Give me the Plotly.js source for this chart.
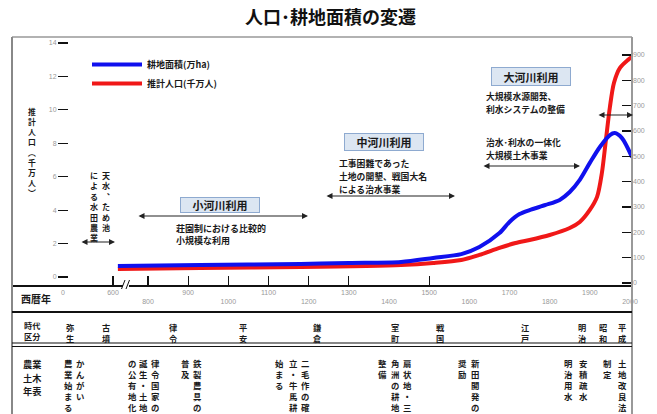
<!DOCTYPE html>
<html><head><meta charset="utf-8">
<script src="https://cdn.plot.ly/plotly-3.0.1.min.js"></script>
<style>html,body{margin:0;padding:0;background:#fff}</style>
</head><body><div id="chart" style="width:657px;height:414px"></div>
<script>
// ---- data ----
const farmYears = [725, 930, 1180, 1300, 1430, 1510, 1580, 1625, 1675, 1700, 1725, 1750, 1790, 1825, 1850, 1875, 1900, 1925, 1950, 1962, 1980, 2005];
const farmArea  = [67, 71, 75, 79, 83, 99, 114, 142, 197, 241, 272, 288, 308, 328, 359, 407, 474, 537, 584, 592, 572, 497];
const popYears  = [725, 930, 1180, 1430, 1510, 1580, 1625, 1675, 1715, 1750, 1800, 1850, 1875, 1900, 1918, 1930, 1940, 1950, 1960, 1975, 1995, 2005];
const popValues = [0.48, 0.54, 0.60, 0.72, 0.84, 1.02, 1.32, 1.74, 2.03, 2.21, 2.51, 2.93, 3.29, 4.01, 4.79, 6.22, 8.20, 10.17, 11.61, 12.51, 12.99, 13.17];

const upperTickYears = [0, 600, 900, 1100, 1300, 1500, 1700, 1900];
const lowerTickYears = [800, 1000, 1200, 1400, 1600, 1800, 2000];
const tickMarkYears  = [600, 800, 900, 1000, 1100, 1200, 1300, 1500];
const leftTicks  = [0, 2, 4, 6, 8, 10, 12, 14];
const rightTicks = [0, 100, 200, 300, 400, 500, 600, 700, 800, 900];

const eras = ['弥生','古墳','律令','平安','鎌倉','室町','戦国','江戸','明治','昭和','平成'];
const events = [
  ['農業始まる','かんがい'],
  ['の公有地化','誕生・土地','律令国家の'],
  ['普及','鉄製農具の'],
  ['始まる','立・牛馬耕','二毛作の確'],
  ['整備','角洲の耕地','扇状地・三'],
  ['奨励','新田開発の'],
  ['明治用水','安積疏水'],
  ['制定','土地改良法']
];

// ---- layout helpers ----
const L = 12, R = 632, T = 37, B = 285;
const px = x => (x - L) / (R - L);
const py = y => (B - y) / (B - T);
// broken axis: years before 700 are compressed
const pos = y => (y < 700 ? 588 + y * (713 - 588) / 600 : y);

const JP = 'Noto Sans CJK JP';
const txt = '#1a1a1a';
const ann = [];
// vertical column of characters: one text element, one character per line
function vcol(s, x, yFirst, size) {
  const map = {'、':'︑','(':'︵',')':'︶'};
  const pitch = size * 1.3;
  ann.push({
    xref:'paper', yref:'paper', x:px(x), y:py(yFirst - pitch / 2), xanchor:'center', yanchor:'top',
    text:[...s].map(c => map[c] || c).join('<br>'), showarrow:false, align:'center', borderpad:0,
    font:{family:JP, size:size, color:txt, weight:'bold'}
  });
}
function htext(s, x, y, size, xanchor, align) {
  ann.push({xref:'paper', yref:'paper', x:px(x), y:py(y), xanchor:xanchor || 'left', yanchor:'top', borderpad:0,
    align:align || 'left', text:s, showarrow:false, font:{family:JP, size:size, color:txt, weight:'bold'}});
}
// several lines, each its own text, with a given line pitch
function hlines(lines, x, yTop, pitch, size, xanchor) {
  lines.forEach((s, i) => htext(s, x, yTop + i * pitch, size, xanchor, 'center'));
}
function box(s, cx, cy, w, h) {
  ann.push({xref:'paper', yref:'paper', x:px(cx), y:py(cy), xanchor:'center', yanchor:'middle',
    text:s, showarrow:false, width:w, height:h, bgcolor:'#dce6f2', bordercolor:'#8eaad0', borderwidth:1, borderpad:0,
    font:{family:JP, size:11, color:txt, weight:'bold'}});
}
function darrow(x1, x2, y) {
  ann.push({xref:'paper', yref:'paper', x:px(x2), y:py(y), ax:x1 - x2, ay:0, axref:'pixel', ayref:'pixel',
    text:'', showarrow:true, arrowside:'end+start', arrowhead:2, startarrowhead:2, arrowsize:1, startarrowsize:1,
    arrowwidth:1.2, arrowcolor:'#222', standoff:0, startstandoff:0});
}

// y-axis title (vertical)
vcol('推計人口(千万人)', 32, 110, 7.8);
htext('西暦年', 20, 290, 10);

// in-plot notes
vcol('天水、ため池', 106, 174, 8);
vcol('による水田農業', 94, 174, 8);
darrow(80, 115, 242);
box('小河川利用', 220, 204.5, 78, 14);
darrow(137, 308, 216);
htext('荘園制における比較的<br>小規模な利用', 175, 221, 9);
box('中河川利用', 384, 141.5, 78, 16);
hlines(['工事困難であった', '土地の開墾、戦国大名', 'による治水事業'], 338, 155.5, 13, 8.8, 'left');
darrow(325, 455, 196);
box('大河川利用', 531, 76, 78, 17);
hlines(['大規模水源開発、', '利水システムの整備'], 485, 88.5, 13, 8.8, 'left');
darrow(597, 633, 115);
hlines(['治水･利水の一体化', '大規模土木事業'], 485, 134.5, 13, 8.8, 'left');
darrow(482, 580, 166);

// table
const eraX = [70, 106, 173, 243, 317, 395, 440, 525, 582, 603, 622];
htext('時代<br>区分', 32, 318, 8.2, 'center', 'center');
eras.forEach((e, i) => vcol(e, eraX[i], 325, 8.2));
hlines(['農業', '土木', '年表'], 32, 356, 13.5, 9.2, 'center');
const evX = [[68, 80], [132, 143, 155], [185, 197], [279, 293, 305], [382, 395, 407], [462, 475], [568, 583], [607, 622]];
events.forEach((cols, i) => cols.forEach((c, j) => vcol(c, evX[i][j], 361, 8.4)));

const shapes = [
  {type:'line', xref:'paper', yref:'paper', x0:0, x1:1, y0:1, y1:1, line:{color:'#999', width:1.5}},
  {type:'line', xref:'paper', yref:'paper', x0:0, x1:0, y0:py(414), y1:1, line:{color:'#888', width:2}},
  {type:'line', xref:'paper', yref:'paper', x0:1, x1:1, y0:py(414), y1:1, line:{color:'#999', width:2}},
  {type:'line', xref:'paper', yref:'paper', x0:0, x1:1, y0:py(312), y1:py(312), line:{color:'#111', width:2}},
  {type:'line', xref:'paper', yref:'paper', x0:0, x1:1, y0:py(343), y1:py(343), line:{color:'#111', width:1.2}},
  {type:'line', xref:'paper', yref:'paper', x0:0, x1:1, y0:py(346.5), y1:py(346.5), line:{color:'#111', width:1.2}},
  {type:'rect', xref:'paper', yref:'paper', x0:px(123), x1:px(129), y0:py(289), y1:py(281), fillcolor:'#fff', line:{width:0}},
  {type:'line', xref:'paper', yref:'paper', x0:px(121.5), x1:px(125), y0:py(289), y1:py(280), line:{color:'#111', width:1}},
  {type:'line', xref:'paper', yref:'paper', x0:px(126), x1:px(129.5), y0:py(289), y1:py(280), line:{color:'#111', width:1}}
];

const xr = [461.4, 2005];
const tickFont = {family:'Liberation Sans', size:7, color:'#999'};
const data = [
  {x:farmYears, y:farmArea, yaxis:'y2', type:'scatter', mode:'lines', name:'耕地面積(万ha)',
   line:{color:'#1010ee', width:4, shape:'spline', smoothing:0.8}},
  {x:popYears, y:popValues, yaxis:'y', type:'scatter', mode:'lines', name:'推計人口(千万人)',
   line:{color:'#f01818', width:4, shape:'spline', smoothing:0.8}},
  {x:[], y:[], xaxis:'x2', showlegend:false, hoverinfo:'skip'},
  {x:[], y:[], xaxis:'x3', showlegend:false, hoverinfo:'skip'}
];
const layout = {
  width:657, height:414, margin:{l:L, r:657 - R, t:T, b:414 - B, pad:0},
  paper_bgcolor:'#fff', plot_bgcolor:'#fff',
  title:{text:'人口･耕地面積の変遷', x:0.503, xref:'container', xanchor:'center', y:1 - 18/414, yref:'container', yanchor:'middle',
    font:{family:JP, size:18, color:'#111', weight:'bold'}},
  xaxis:{range:xr, tickvals:upperTickYears.map(pos), ticktext:upperTickYears.map(String), ticks:'',
    showline:true, linecolor:'#111', linewidth:1.5, showgrid:false, zeroline:false, tickfont:tickFont, fixedrange:true},
  xaxis2:{range:xr, overlaying:'x', anchor:'y', side:'bottom', tickvals:lowerTickYears.map(pos), ticktext:lowerTickYears.map(String),
    ticks:'', ticklabelstandoff:11, showline:false, showgrid:false, zeroline:false, tickfont:tickFont},
  xaxis3:{range:xr, overlaying:'x', anchor:'y', side:'bottom', tickvals:tickMarkYears.map(pos), showticklabels:false,
    ticks:'inside', ticklen:9, tickwidth:1.2, tickcolor:'#111', showline:false, showgrid:false, zeroline:false},
  yaxis:{range:[-0.479, 14.359], anchor:'free', position:px(68), tickvals:leftTicks, ticks:'outside', ticklen:10,
    tickwidth:1.2, tickcolor:'#111', showline:false, showgrid:false, zeroline:false, tickfont:tickFont},
  yaxis2:{range:[-7.9, 971], overlaying:'y', side:'right', anchor:'x', tickvals:rightTicks, ticks:'inside', ticklen:10,
    tickwidth:1.2, tickcolor:'#111', showline:false, showgrid:false, zeroline:false, tickfont:tickFont},
  showlegend:true,
  legend:{x:px(87), y:py(50), xanchor:'left', yanchor:'top', bgcolor:'rgba(0,0,0,0)', itemwidth:50,
    font:{family:JP, size:9, color:txt, weight:'bold'}, tracegroupgap:0},
  annotations:ann, shapes:shapes
};
Plotly.newPlot('chart', data, layout, {staticPlot:true, displayModeBar:false});
</script></body></html>
